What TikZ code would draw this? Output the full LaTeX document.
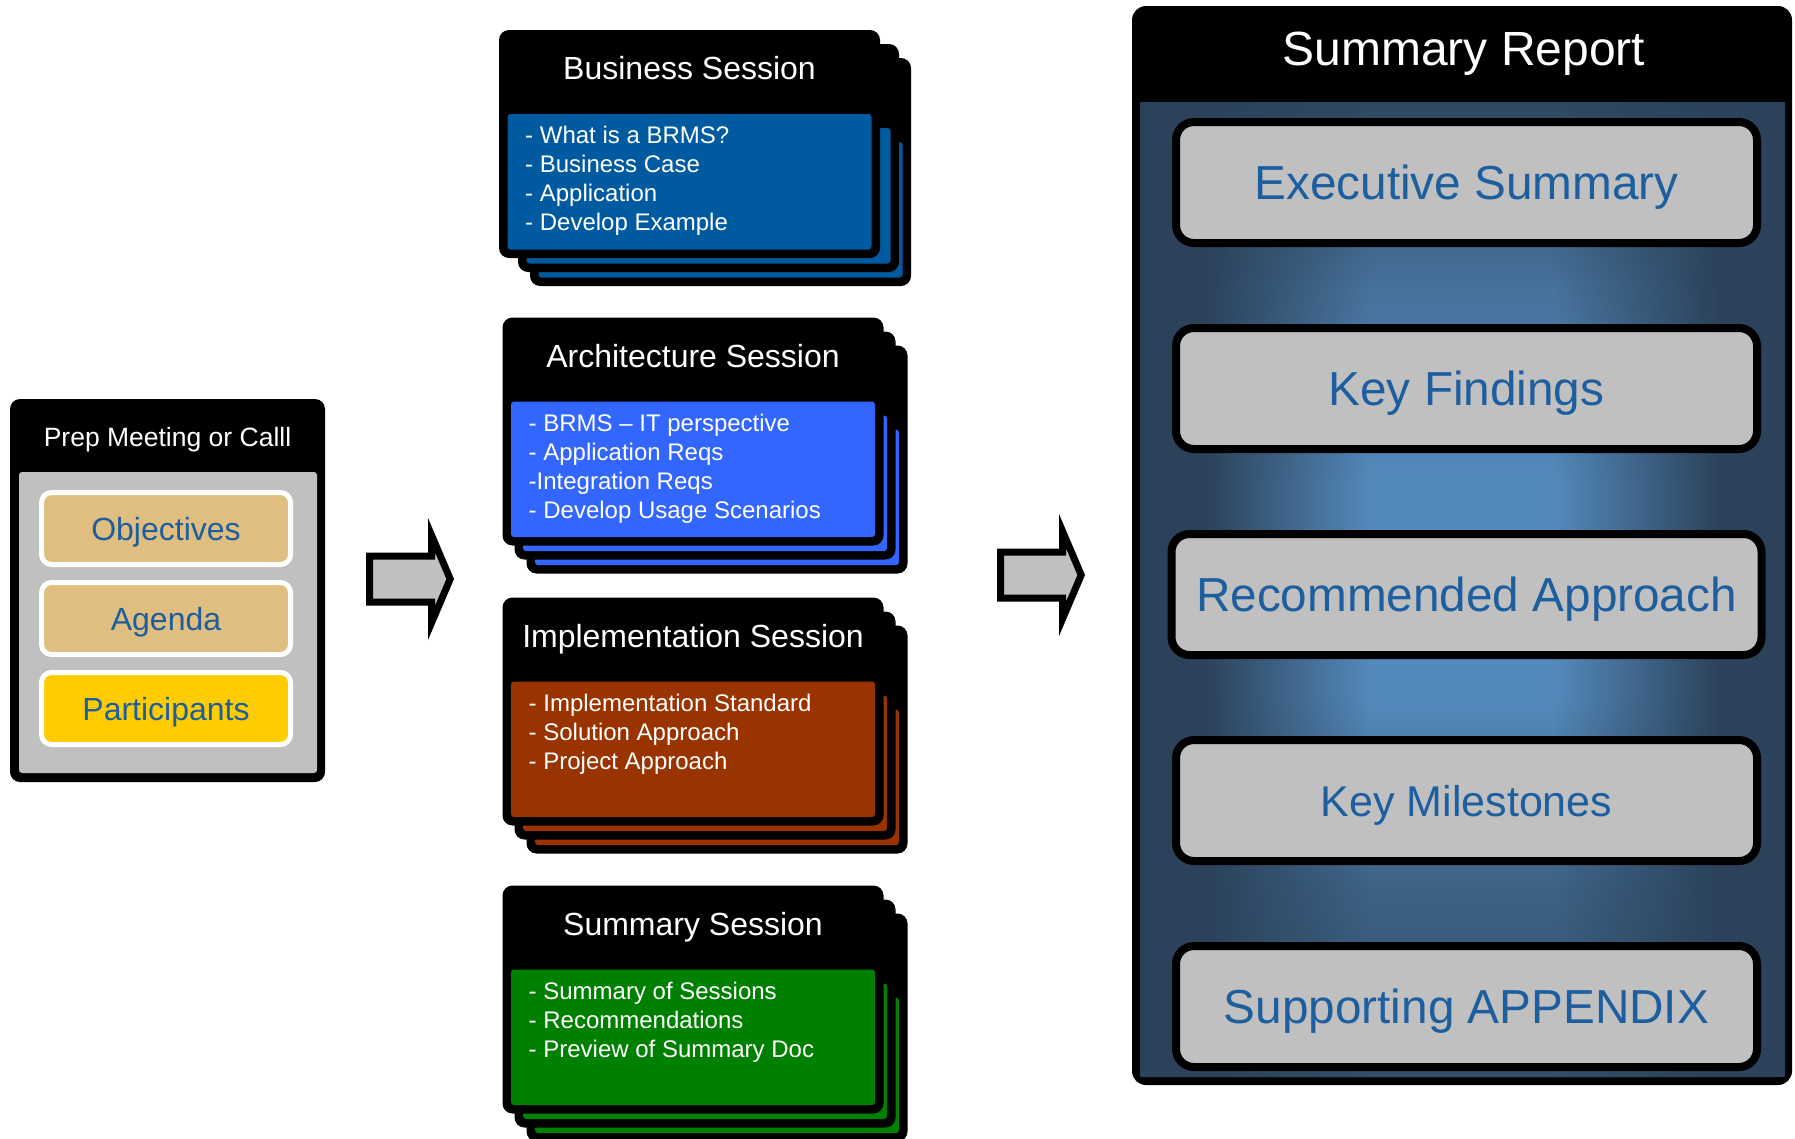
\documentclass[tikz,border=0pt]{standalone}
\usepackage{fontspec}
\setmainfont{Liberation Sans}
\usetikzlibrary{positioning, calc, fadings}

\definecolor{bizblue}{RGB}{0, 90, 160}
\definecolor{archblue}{RGB}{51, 102, 255}
\definecolor{implred}{RGB}{153, 51, 0}
\definecolor{summgreen}{RGB}{0, 128, 0}
\definecolor{panelgrey}{RGB}{192, 192, 192}
\definecolor{preptan}{RGB}{224, 190, 128}
\definecolor{prepgold}{RGB}{255, 204, 0}
\definecolor{itemblue}{RGB}{28, 94, 158}
\definecolor{rpdark}{RGB}{43, 66, 90}
\definecolor{rplight}{RGB}{84, 138, 187}

\pgfdeclarehorizontalshading{rpband}{100bp}{color(0bp)=(rpdark); color(30bp)=(rpdark); color(43bp)=(rplight); color(57bp)=(rplight); color(70bp)=(rpdark); color(100bp)=(rpdark)}
\tikzfading[name=rpfadetop, top color=transparent!8, bottom color=transparent!100, middle color=transparent!68]
\tikzfading[name=rpfadebottom, top color=transparent!100, bottom color=transparent!18, middle color=transparent!45]

\begin{document}
\begin{tikzpicture}[
        x=1pt, y=-1pt,
        cardframe/.style={rectangle, fill=black, rounded corners=10pt, minimum width=381pt, minimum height=228pt, inner sep=0pt, outer sep=0pt},
        cardtitle/.style={anchor=base, inner sep=0pt, text=white, font=\fontsize{32}{38}\selectfont},
        cardbody/.style={anchor=north west, inner sep=0pt, align=left, text=white, font=\fontsize{24}{29}\selectfont},
        prepframe/.style={rectangle, fill=black, rounded corners=10pt, minimum width=315pt, minimum height=383pt, inner sep=0pt, outer sep=0pt},
        preptitle/.style={anchor=base, inner sep=0pt, text=white, font=\fontsize{26.5}{31}\selectfont},
        prepitem/.style={rectangle, draw=white, line width=5pt, rounded corners=10pt, minimum width=249pt, minimum height=72pt, inner sep=0pt, outer sep=0pt, text=itemblue, font=\fontsize{32}{38}\selectfont, text height=23pt, text depth=0pt},
        reportframe/.style={rectangle, fill=black, rounded corners=14pt, minimum width=660pt, minimum height=1079pt, inner sep=0pt, outer sep=0pt},
        reporttitle/.style={anchor=base, inner sep=0pt, text=white, font=\fontsize{48}{56}\selectfont},
        reportbox/.style={rectangle, draw=black, line width=8pt, fill=panelgrey, rounded corners=18pt, minimum width=581pt, minimum height=121pt, inner sep=0pt, outer sep=0pt, text=itemblue, font=\fontsize{47.7}{56}\selectfont, text height=34pt, text depth=0pt},
        bigarrow/.style={draw=black, fill=panelgrey, line width=7pt}
    ]
        \path[use as bounding box, fill=white] (0,0) rectangle (1795,1138);

        % prep meeting
        \node[prepframe] (prep) at (167.5,590.5) {};
        \fill[panelgrey, rounded corners=3pt] ($(prep.north west)+(9,73)$) rectangle ($(prep.south east)+(-8,-9)$);
        \node[preptitle] (prephead) at ($(prep.north)+(0,47)$) {Prep Meeting or Calll};
        \node[prepitem, fill=preptan] (objectives) at (166,528.5) {Objectives};
        \node[prepitem, fill=preptan, below=18pt of objectives] (agenda) {Agenda};
        \node[prepitem, fill=prepgold, below=18pt of agenda] (participants) {Participants};

        % big arrows
        \foreach \ax/\ay in {366/579, 997/575}
            \draw[bigarrow] (\ax+3.5,\ay-23) -- ++(62,0) -- ++(0,-20.9) -- (\ax+84.2,\ay)
                -- (\ax+65.5,\ay+43.9) -- ++(0,-20.9) -- (\ax+3.5,\ay+23) -- cycle;

        % session cards, back to front
        \foreach \key/\cx/\cy/\dx/\ddx/\col in {biz/689.5/144/19/31/bizblue, arch/693/431.5/12/24/archblue, impl/693/711.5/12/24/implred, summ/693/999.5/12/24/summgreen}{
            \foreach \k/\ox/\oy in {2/\ddx/28, 1/\dx/14, 0/0/0}{
                \node[cardframe] (\key card\k) at (\cx+\ox,\cy+\oy) {};
                \fill[\col, rounded corners=3pt] ($(\key card\k.north west)+(8.5,84)$) rectangle ($(\key card\k.south east)+(-8.5,-8.5)$);
            }
        }

        \node[cardtitle] (biztitle) at ($(bizcard0.north)+(0,49.5)$) {Business Session};
        \node[cardbody] (bizbody) at ($(bizcard0.north west)+(26,96)$) {- What is a BRMS?\\- Business Case\\- Application\\- Develop Example};

        \node[cardtitle] (archtitle) at ($(archcard0.north)+(0,49.5)$) {Architecture Session};
        \node[cardbody] (archbody) at ($(archcard0.north west)+(26,96)$) {- BRMS – IT perspective\\- Application Reqs\\-Integration Reqs\\- Develop Usage Scenarios};

        \node[cardtitle] (impltitle) at ($(implcard0.north)+(0,49.5)$) {Implementation Session};
        \node[cardbody] (implbody) at ($(implcard0.north west)+(26,96)$) {- Implementation Standard\\- Solution Approach\\- Project Approach};

        \node[cardtitle] (summtitle) at ($(summcard0.north)+(0,49.5)$) {Summary Session};
        \node[cardbody] (summbody) at ($(summcard0.north west)+(26,96)$) {- Summary of Sessions\\- Recommendations\\- Preview of Summary Doc};

        % summary report
        \node[reportframe] (report) at (1462,545.5) {};
        \shade[shading=rpband, rounded corners=3pt] (1140,102) rectangle (1785,1077);
        \fill[rpdark, path fading=rpfadetop] (1140,102) rectangle (1785,480);
        \fill[rpdark, path fading=rpfadebottom] (1140,700) rectangle (1785,1077);
        \node[reporttitle] (rphead) at ($(report.north)+(2,59)$) {Summary Report};

        \node[reportbox] (execsum) at (1466.5,182.5) {Executive Summary};
        \node[reportbox, below=85pt of execsum] (findings) {Key Findings};
        \node[reportbox, minimum width=590pt, below=85pt of findings] (approach) {Recommended Approach};
        \node[reportbox, font=\fontsize{43}{50}\selectfont, text height=31pt, below=85pt of approach] (milestones) {Key Milestones};
        \node[reportbox, below=85pt of milestones] (appendix) {Supporting APPENDIX};
    \end{tikzpicture}
\end{document}
